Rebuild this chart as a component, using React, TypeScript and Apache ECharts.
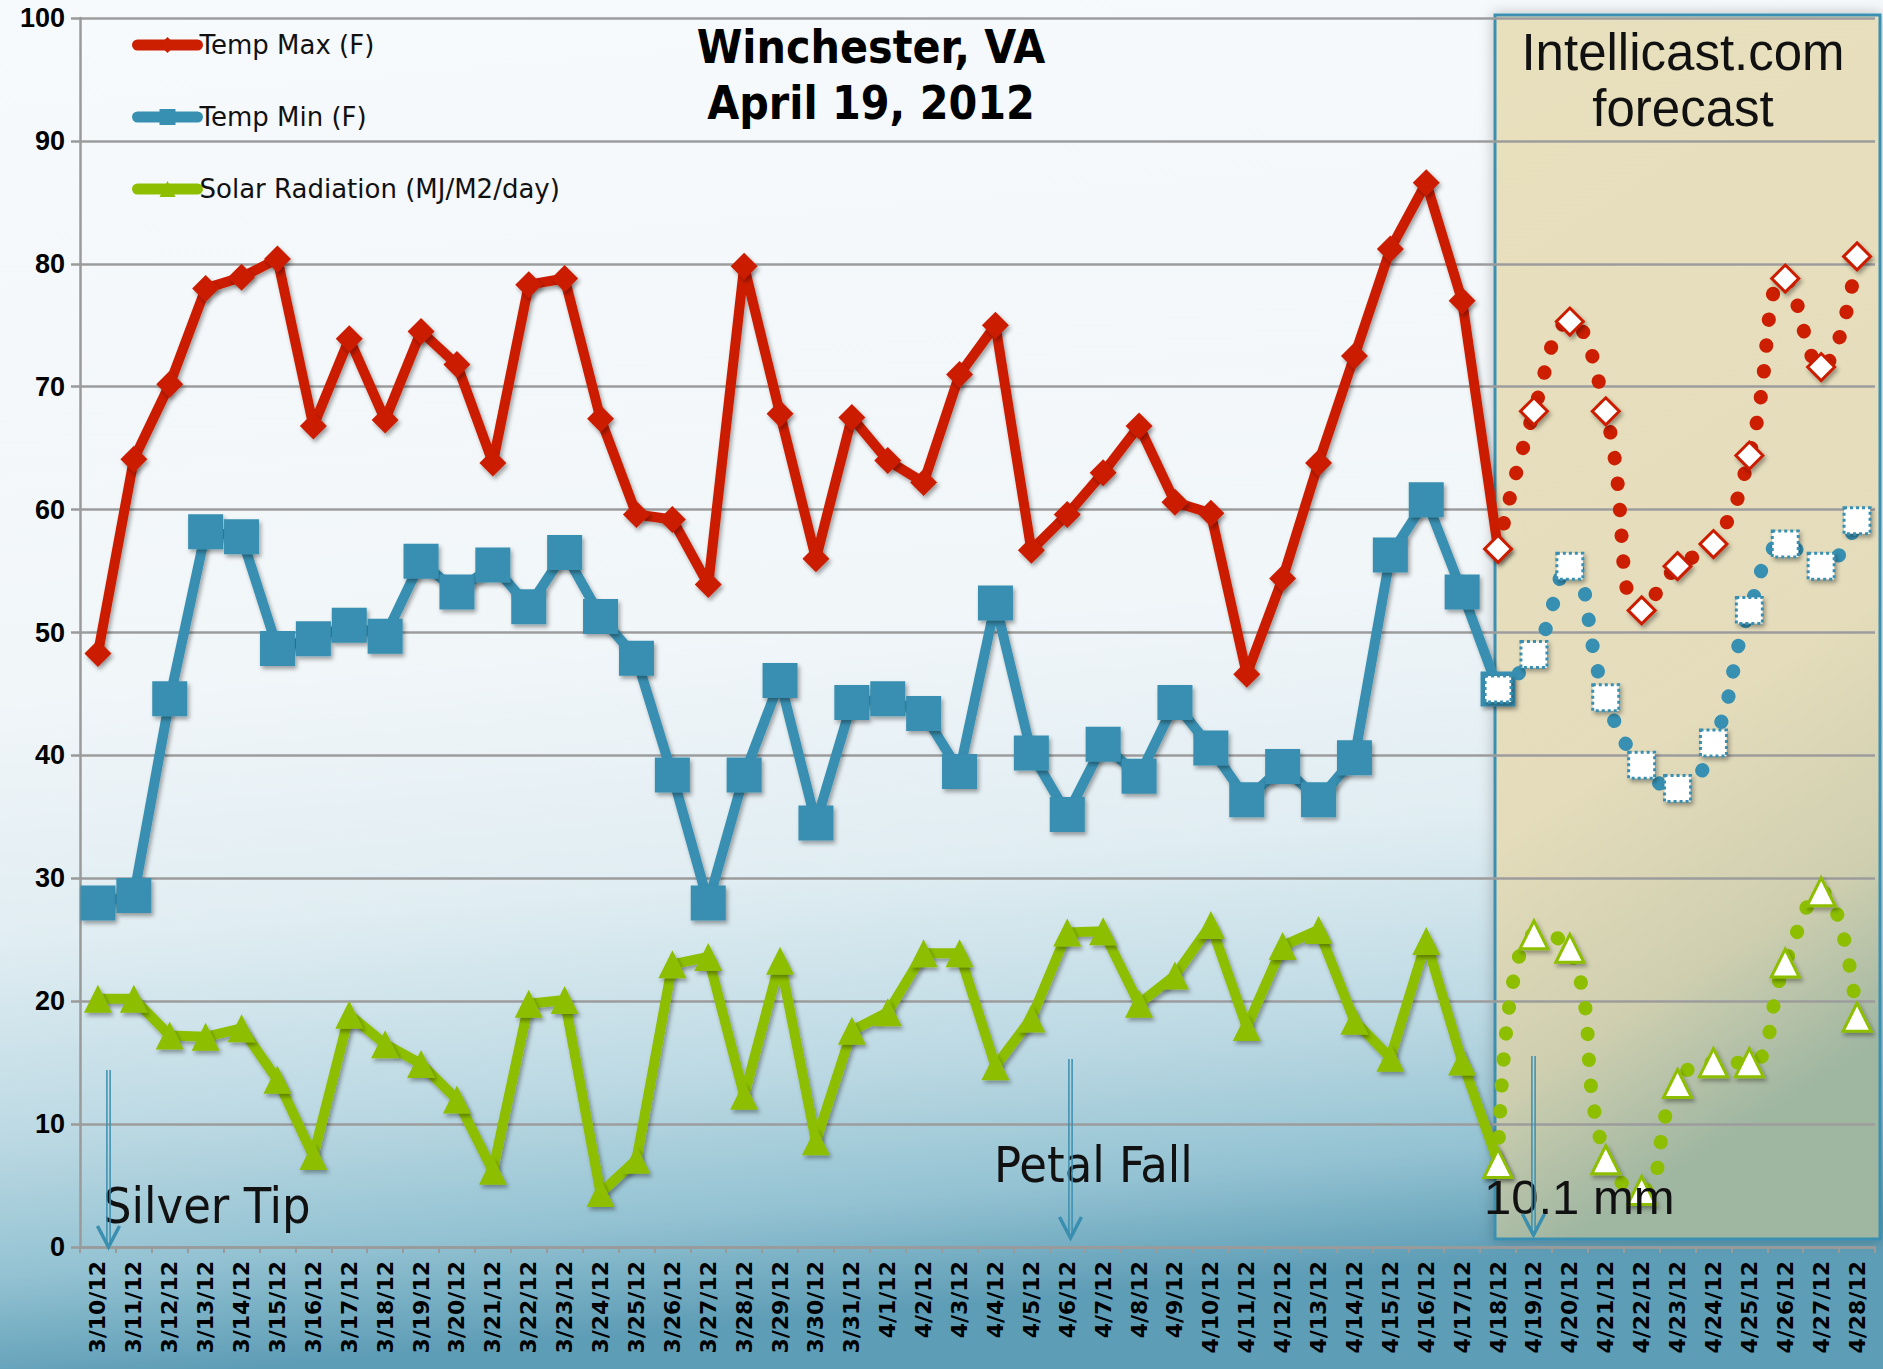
import React, { useEffect, useRef } from "react";
import * as echarts from "echarts";

const categories = [
  "3/10/12", "3/11/12", "3/12/12", "3/13/12", "3/14/12", "3/15/12", "3/16/12", "3/17/12", "3/18/12", "3/19/12",
  "3/20/12", "3/21/12", "3/22/12", "3/23/12", "3/24/12", "3/25/12", "3/26/12", "3/27/12", "3/28/12", "3/29/12",
  "3/30/12", "3/31/12", "4/1/12", "4/2/12", "4/3/12", "4/4/12", "4/5/12", "4/6/12", "4/7/12", "4/8/12",
  "4/9/12", "4/10/12", "4/11/12", "4/12/12", "4/13/12", "4/14/12", "4/15/12", "4/16/12", "4/17/12", "4/18/12",
  "4/19/12", "4/20/12", "4/21/12", "4/22/12", "4/23/12", "4/24/12", "4/25/12", "4/26/12", "4/27/12", "4/28/12",
];

// Observed (3/10 .. 4/18)
const tempMax = [
  48.3, 64.1, 70.2, 78.0, 78.9, 80.4, 66.8, 73.9, 67.3, 74.5,
  71.8, 63.8, 78.3, 78.8, 67.4, 59.6, 59.2, 53.9, 79.8, 67.8,
  56.0, 67.5, 64.0, 62.2, 71.0, 75.0, 56.7, 59.6, 63.0, 66.8,
  60.6, 59.7, 46.6, 54.4, 63.8, 72.5, 81.2, 86.6, 77.0, 56.8,
];
const tempMin = [
  28.0, 28.6, 44.6, 58.2, 57.8, 48.7, 49.5, 50.6, 49.7, 55.8,
  53.3, 55.5, 52.1, 56.5, 51.3, 47.9, 38.4, 28.0, 38.4, 46.1,
  34.5, 44.3, 44.6, 43.4, 38.7, 52.4, 40.2, 35.2, 40.9, 38.3,
  44.3, 40.6, 36.4, 39.1, 36.4, 39.8, 56.3, 60.8, 53.3, 45.4,
];
const solar = [
  20.2, 20.2, 17.2, 17.1, 17.8, 13.6, 7.4, 18.9, 16.5, 14.9,
  12.0, 6.2, 19.8, 20.1, 4.4, 7.1, 23.0, 23.6, 12.3, 23.3,
  8.6, 17.6, 19.1, 23.9, 23.9, 14.7, 18.6, 25.6, 25.7, 19.8,
  22.1, 26.2, 17.9, 24.5, 25.8, 18.4, 15.4, 24.9, 15.1, 6.9,
];

// Intellicast.com forecast (4/18 .. 4/28)
const forecastStart = "4/18/12";
const fcMax = [56.8, 68.0, 75.3, 68.0, 51.8, 55.4, 57.2, 64.4, 78.8, 71.6, 80.6];
const fcMin = [45.4, 48.2, 55.4, 44.7, 39.2, 37.3, 41.0, 51.8, 57.2, 55.4, 59.1];
const fcSolar = [6.8, 25.4, 24.3, 7.1, 4.6, 13.3, 15.0, 15.0, 23.1, 28.9, 18.7];

const yTicks = { min: 0, max: 100, interval: 10 };

const RED = "#cc1e00";
const BLUE = "#378fb1";
const GREEN = "#8dbf00";
const NARROW = '"Liberation Sans Narrow", "Arial Narrow", "DejaVu Sans Condensed", sans-serif';
const SANS = '"Liberation Sans", Arial, sans-serif';
const WIDE = '"DejaVu Sans", Verdana, sans-serif';

export default function App() {
  const ref = useRef<HTMLDivElement>(null);

  useEffect(() => {
    const chart = echarts.init(ref.current as HTMLDivElement, null, { renderer: "svg" });
    const startIdx = categories.indexOf(forecastStart);
    const pad = (arr: number[]) =>
      categories.map((_, i) => (i >= startIdx && i - startIdx < arr.length ? arr[i - startIdx] : null));

    const shadowLine = { shadowColor: "rgba(0,0,0,0.35)", shadowBlur: 4, shadowOffsetX: 2, shadowOffsetY: 3 };

    const solidSeries = (name: string, data: number[], color: string, symbol: string, size: number) => ({
      name,
      type: "line",
      data,
      symbol,
      symbolSize: size,
      showAllSymbol: true,
      lineStyle: { color, width: 10, cap: "round", ...shadowLine },
      itemStyle: { color, ...shadowLine },
      z: 3,
    });
    const fcSeries = (name: string, data: number[], color: string, symbol: string, size: number, borderType: string) => ({
      name,
      type: "line",
      data: pad(data),
      smooth: 0.5,
      symbol,
      symbolSize: size,
      showAllSymbol: true,
      lineStyle: { color, width: 14, type: [0.5, 25.5], cap: "round", join: "round" },
      itemStyle: {
        color: "#ffffff",
        borderColor: color,
        borderWidth: 3,
        borderType,
        shadowColor: "rgba(0,0,0,0.35)",
        shadowBlur: 4,
        shadowOffsetX: 2,
        shadowOffsetY: 3,
      },
      z: 5,
    });

    const arrow = (x: number, y1: number, y2: number) => [
      { type: "line", shape: { x1: x - 1.6, y1, x2: x - 1.6, y2: y2 - 2 }, style: { stroke: "#3a8fb0", lineWidth: 1.5 }, z: 20 },
      { type: "line", shape: { x1: x + 1.6, y1, x2: x + 1.6, y2: y2 - 2 }, style: { stroke: "#3a8fb0", lineWidth: 1.5 }, z: 20 },
      {
        type: "polyline",
        shape: { points: [[x - 11, y2 - 21], [x, y2], [x + 11, y2 - 21]] },
        style: { stroke: "#3a8fb0", lineWidth: 3.5, fill: "none" },
        z: 20,
      },
    ];

    chart.setOption({
      animation: false,
      backgroundColor: new echarts.graphic.LinearGradient(0, 0, 0.12, 1, [
        { offset: 0, color: "#f7fafc" },
        { offset: 0.5, color: "#f1f6f9" },
        { offset: 0.68, color: "#e0edf2" },
        { offset: 0.82, color: "#bcd9e3" },
        { offset: 0.92, color: "#93c2d2" },
        { offset: 1, color: "#5e9db6" },
      ]),
      grid: { left: 80, right: 8, top: 18, bottom: 122 },
      legend: {
        orient: "vertical",
        left: 127,
        top: 25,
        itemWidth: 60,
        itemHeight: 20,
        itemGap: 42,
        lineStyle: { width: 11, cap: "round" },
        data: ["Temp Max (F)", "Temp Min (F)", "Solar Radiation (MJ/M2/day)"],
        textStyle: { fontFamily: WIDE, fontSize: 26, lineHeight: 30, color: "#111", padding: [0, 0, 0, -3] },
      },
      xAxis: {
        type: "category",
        data: categories,
        boundaryGap: true,
        axisLine: { lineStyle: { color: "#9a9a9a", width: 2.5 } },
        axisTick: { show: true, length: 6, lineStyle: { color: "#9a9a9a", width: 2 } },
        axisLabel: {
          rotate: 90,
          interval: 0,
          margin: 14,
          color: "#000",
          fontFamily: WIDE,
          fontWeight: "bold",
          fontSize: 22,
        },
        splitLine: { show: false },
      },
      yAxis: {
        type: "value",
        min: yTicks.min,
        max: yTicks.max,
        interval: yTicks.interval,
        axisLine: { show: true, lineStyle: { color: "#9a9a9a", width: 2.5 } },
        axisTick: { show: true, length: 9, lineStyle: { color: "#9a9a9a", width: 2.5 } },
        splitLine: { lineStyle: { color: "#9c9c9c", width: 2.5 } },
        axisLabel: { color: "#000", fontFamily: SANS, fontWeight: "bold", fontSize: 27, margin: 15 },
      },
      graphic: [
        {
          type: "rect",
          shape: { x: 1495, y: 15, width: 385, height: 1224 },
          style: {
            fill: new echarts.graphic.LinearGradient(0, 0, 0.2, 1, [
              { offset: 0, color: "#e8e0bd" },
              { offset: 0.65, color: "#e4dcbb" },
              { offset: 0.85, color: "#cfcfb0" },
              { offset: 1, color: "#9fb6a1" },
            ]),
            stroke: "#3a90b2",
            lineWidth: 3,
            shadowColor: "rgba(0,0,0,0.25)",
            shadowBlur: 14,
          },
          z: -10,
        },
        {
          type: "text",
          x: 871,
          y: 75,
          style: {
            text: "Winchester, VA\nApril 19, 2012",
            fontFamily: NARROW,
            fontWeight: "bold",
            fontSize: 46,
            lineHeight: 56,
            align: "center",
            verticalAlign: "middle",
            fill: "#000",
          },
          z: 20,
        },
        {
          type: "text",
          x: 1683,
          y: 80,
          style: {
            text: "Intellicast.com\nforecast",
            fontFamily: SANS,
            fontSize: 51,
            lineHeight: 56,
            align: "center",
            verticalAlign: "middle",
            fill: "#111",
          },
          z: 20,
        },
        {
          type: "text",
          x: 103,
          y: 1206,
          style: { text: "Silver Tip", fontFamily: NARROW, fontSize: 50, align: "left", verticalAlign: "middle", fill: "#111" },
          z: 20,
        },
        {
          type: "text",
          x: 994,
          y: 1165,
          style: { text: "Petal Fall", fontFamily: NARROW, fontSize: 50, align: "left", verticalAlign: "middle", fill: "#111" },
          z: 20,
        },
        {
          type: "text",
          x: 1484,
          y: 1197,
          style: { text: "10.1 mm", fontFamily: SANS, fontSize: 49, align: "left", verticalAlign: "middle", fill: "#111" },
          z: 20,
        },
        ...arrow(108.5, 1070, 1247),
        ...arrow(1070.5, 1059, 1238),
        ...arrow(1533.5, 1056, 1235),
      ],
      series: [
        solidSeries("Temp Max (F)", tempMax, RED, "diamond", 27),
        solidSeries("Temp Min (F)", tempMin, BLUE, "rect", 35),
        solidSeries("Solar Radiation (MJ/M2/day)", solar, GREEN, "triangle", 28),
        fcSeries("Temp Max forecast", fcMax, RED, "diamond", 27, "solid"),
        fcSeries("Temp Min forecast", fcMin, BLUE, "rect", 26, "dotted"),
        fcSeries("Solar Radiation forecast", fcSolar, GREEN, "triangle", 28, "solid"),
      ],
    });

    return () => chart.dispose();
  }, []);

  return <div ref={ref} style={{ position: "absolute", left: 0, top: 0, width: 1883, height: 1369 }} />;
}
